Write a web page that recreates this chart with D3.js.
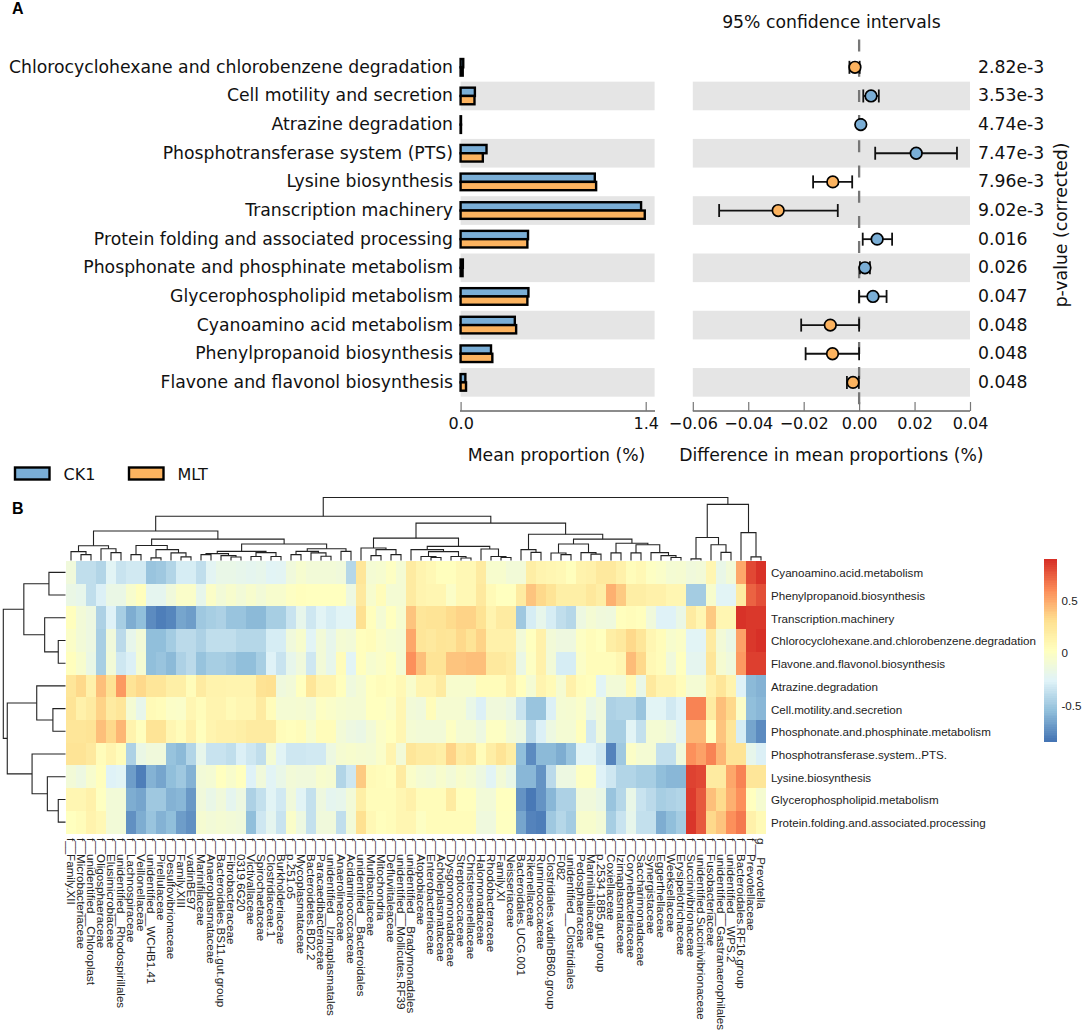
<!DOCTYPE html>
<html><head><meta charset="utf-8">
<style>html,body{margin:0;padding:0;background:#fff}svg{display:block}
.dv{font-family:"DejaVu Sans",sans-serif;fill:#111}
.ar{font-family:"Liberation Sans",Arial,sans-serif;fill:#222}</style>
<script src="https://cdn.jsdelivr.net/npm/d3@7"></script></head>
<body><svg id="c" width="1084" height="1032"></svg>
<script>
// ---------- Panel A data ----------
const pathways=["Chlorocyclohexane and chlorobenzene degradation","Cell motility and secretion","Atrazine degradation","Phosphotransferase system (PTS)","Lysine biosynthesis","Transcription machinery","Protein folding and associated processing","Phosphonate and phosphinate metabolism","Glycerophospholipid metabolism","Cyanoamino acid metabolism","Phenylpropanoid biosynthesis","Flavone and flavonol biosynthesis"];
const meanCK1=[.02,.108,.003,.196,1.015,1.365,.51,.017,.513,.41,.23,.036];
const meanMLT=[.016,.105,.003,.168,1.025,1.393,.505,.015,.505,.42,.24,.041];
const diffMean=[-.0015,.0043,.0006,.0206,-.0095,-.0292,.0065,.0021,.005,-.0104,-.0096,-.0022];
const diffLow=[-.0035,.0015,.0002,.0058,-.0166,-.0505,.0013,.0003,0,-.0209,-.0193,-.0044];
const diffHigh=[.0002,.0071,.001,.0353,-.0025,-.0077,.0119,.0039,.0099,0,0,-.0001];
const pValues=["2.82e-3","3.53e-3","4.74e-3","7.47e-3","7.96e-3","9.02e-3","0.016","0.026","0.047","0.048","0.048","0.048"];
const groups=["CK1","MLT"];
const groupColors=["#7aaed6","#fcb35f"];
// ---------- Panel B data ----------
const heatRows=["Cyanoamino.acid.metabolism","Phenylpropanoid.biosynthesis","Transcription.machinery","Chlorocyclohexane.and.chlorobenzene.degradation","Flavone.and.flavonol.biosynthesis","Atrazine.degradation","Cell.motility.and.secretion","Phosphonate.and.phosphinate.metabolism","Phosphotransferase.system..PTS.","Lysine.biosynthesis","Glycerophospholipid.metabolism","Protein.folding.and.associated.processing"];
const heatCols=["f__Family.XII","f__Microbacteriaceae","f__unidentified__Chloroplast","f__Oligosphaeraceae","f__Elusimicrobiaceae","f__unidentified__Rhodospirillales","f__Lachnospiraceae","f__Veillonellaceae","f__unidentified__WCHB1.41","f__Pirellulaceae","f__Desulfovibrionaceae","f__Family.XIII","f__vadinBE97","f__Marinifilaceae","f__Anaeroplasmataceae","f__Bacteroidales.BS11.gut.group","f__Fibrobacteraceae","f__0319.6G20","f__Victivallaceae","f__Spirochaetaceae","f__Clostridiaceae.1","f__Burkholderiaceae","f__p.251.o5","f__Mycoplasmataceae","f__Bacteroidetes.BD2.2","f__Paracaedibacteraceae","f__unidentified__Izimaplasmatales","f__Anaerolineaceae","f__Acidaminococcaceae","f__unidentified__Bacteroidales","f__Muribaculaceae","f__Mitochondria","f__Defluviitaleaceae","f__unidentified__Mollicutes.RF39","f__unidentified__Bradymonadales","f__Atopobiaceae","f__Enterobacteriaceae","f__Acholeplasmataceae","f__Dysgonomonadaceae","f__Streptococcaceae","f__Christensenellaceae","f__Halomonadaceae","f__Rhodobacteraceae","f__Family.XI","f__Neisseriaceae","f__Bacteroidales.UCG.001","f__Rikenellaceae","f__Ruminococcaceae","f__Clostridiales.vadinBB60.group","f__F082","f__unidentified__Clostridiales","f__Pedosphaeraceae","f__Marinilabiliaceae","f__p.2534.18B5.gut.group","f__Coxiellaceae","f__Izimaplasmataceae","f__Corynebacteriaceae","f__Saccharimonadaceae","f__Synergistaceae","f__Eggerthellaceae","f__Weeksellaceae","f__Erysipelotrichaceae","f__Succinivibrionaceae","f__unidentified.Succinivibrionaceae","f__Fusobacteriaceae","f__unidentified__Gastranaerophilales","f__unidentified__WPS.2","f__Bacteroidales.RF16.group","f__Prevotellaceae","g__Prevotella"];
const r01=[-.12,-.38,-.38,-.43,-.25,-.35,-.32,-.32,-.52,-.5,-.43,-.3,-.3,-.38,-.24,-.18,-.18,-.2,-.22,-.2,-.25,-.24,-.12,-.06,-.1,-.1,-.1,-.12,-.42,.25,-.08,-.06,0,-.08,.2,.12,.08,.03,.03,.08,.08,.2,-.05,-.05,-.1,-.1,.18,.12,.1,.08,.03,.13,.15,.22,.22,.15,.05,.08,0,-.03,-.08,-.07,-.12,-.1,.1,-.18,-.1,.5,.8,.87];
const r02=[-.17,-.2,-.38,-.28,-.17,-.17,-.05,.03,-.22,-.22,-.12,-.03,-.03,-.2,-.02,-.1,-.05,-.1,-.05,-.1,-.05,-.05,0,.03,.02,.02,.02,.02,-.15,.22,-.05,.05,-.08,-.08,.2,.12,.1,.1,-.02,.08,.08,.22,.07,.02,.02,.2,.4,.33,.27,.17,.17,.17,.23,.18,.47,.38,.18,.18,.15,.15,.1,.1,-.48,-.48,-.05,-.25,-.25,.2,.72,.78];
const r03=[.03,-.1,-.15,-.45,-.27,-.47,-.62,-.55,-.75,-.8,-.77,-.65,-.68,-.5,-.47,-.45,-.52,-.52,-.57,-.57,-.47,-.47,-.35,-.2,-.33,-.25,-.3,-.25,-.25,.3,.03,-.08,.02,-.06,.4,.25,.27,.27,.32,.35,.35,.28,.12,.2,.2,-.5,-.3,-.2,-.3,-.38,-.42,-.15,-.08,-.12,-.13,.03,.05,.03,-.12,-.27,-.27,-.17,.2,.1,.38,.1,.1,.87,.85,.85];
const r04=[-.02,-.1,-.15,-.47,-.12,-.4,-.2,-.1,-.55,-.55,-.48,-.4,-.4,-.45,-.38,-.38,-.38,-.42,-.42,-.42,-.3,-.3,-.12,-.05,-.25,-.1,-.2,-.08,-.1,.03,.05,-.02,-.06,-.08,.5,.25,.22,.26,.25,.33,.27,.35,.15,.15,.15,-.1,.02,.15,-.1,-.14,-.14,0,.05,.02,.18,.22,.33,.25,.1,.05,-.05,-.02,-.25,-.25,.2,-.1,-.17,.52,.85,.875];
const r05=[.03,-.05,-.17,-.47,-.1,-.33,-.28,-.08,-.55,-.52,-.57,-.45,-.4,-.53,-.47,-.47,-.5,-.55,-.55,-.47,-.27,-.35,-.2,-.12,-.33,-.1,-.2,.05,-.25,.03,-.06,-.03,.03,-.08,.58,.42,.27,.27,.4,.4,.42,.42,.22,.22,.18,-.17,0,.15,-.1,-.3,-.3,-.02,.05,.05,.05,.1,.43,.33,.08,.05,-.12,.02,-.22,-.22,.25,-.07,-.13,.55,.83,.83];
const r06=[.25,.33,.15,.42,.28,.55,.27,.33,.25,.25,.17,.17,.05,.2,.13,.13,.12,.12,.12,.28,.3,-.13,-.1,.02,.25,.12,.12,.03,-.13,-.08,.02,.05,.03,.08,-.04,.12,.12,.2,-.05,-.05,-.05,.05,.05,.05,.15,.03,-.08,.12,.07,-.07,.15,.05,.03,-.25,-.1,-.1,.07,-.18,.22,.12,.12,.05,-.08,-.08,.15,.25,.12,-.27,-.57,-.6];
const r07=[.27,.15,.2,.35,.2,.25,-.08,-.2,.07,.05,-.02,-.03,.1,.05,.12,.12,.07,.1,.1,.2,.05,-.08,-.08,-.07,-.1,0,-.03,-.06,-.08,-.08,.02,.02,-.02,.1,-.1,-.12,.05,-.07,-.07,-.07,-.18,-.28,-.12,-.12,-.17,-.35,-.52,-.52,-.28,-.08,-.07,-.03,-.18,-.12,-.45,-.43,-.43,-.52,-.25,-.25,-.32,-.27,.62,.62,.2,.42,.33,-.02,-.55,-.58];
const r08=[.25,.25,.27,.42,.33,.45,.13,.03,.27,.27,.1,.05,.15,.03,.12,.15,.15,.17,.2,.2,.2,.05,.03,.05,-.05,.05,.05,-.1,-.15,-.17,-.1,-.02,.02,.1,-.08,-.1,-.1,-.1,0,-.08,-.08,-.15,0,0,-.1,-.15,-.4,-.28,-.15,-.08,-.08,.03,-.32,-.12,-.47,-.47,-.25,-.37,-.08,-.08,-.14,-.25,.45,.45,.02,.4,.25,-.3,-.65,-.75];
const r09=[.27,.27,.22,.05,.12,.05,-.45,-.17,-.12,-.12,-.53,-.57,-.43,-.2,-.35,-.35,-.38,-.28,-.33,-.38,-.08,-.25,-.33,-.33,-.32,-.32,-.15,-.07,-.05,-.07,-.08,-.03,.12,-.1,.25,.2,.2,.17,.35,.2,.25,.05,.18,.27,.18,-.55,-.75,-.57,-.57,-.62,-.52,-.25,-.25,-.32,-.78,-.5,-.02,-.08,-.08,-.37,-.37,-.12,.58,.52,.62,.45,.27,.27,-.2,-.28];
const r10=[-.1,-.15,-.05,.03,-.27,-.25,-.68,-.8,-.6,-.65,-.55,-.5,-.6,-.1,-.08,.02,-.04,.02,-.27,-.12,-.25,-.18,-.1,-.12,-.12,-.05,-.07,-.43,-.33,.38,.07,.05,.03,.2,-.03,-.08,-.1,-.05,-.1,-.04,-.08,-.15,-.25,-.1,-.18,-.58,-.58,-.72,-.4,-.15,-.15,0,0,-.27,-.33,-.43,-.43,-.47,-.47,-.55,-.58,-.58,.82,.8,.2,.2,.5,.62,.25,.25];
const r11=[.1,.1,.15,.01,-.1,-.1,-.62,-.65,-.5,-.5,-.6,-.58,-.7,-.12,-.18,-.12,-.22,-.15,-.45,-.37,-.25,-.32,-.12,-.25,-.37,-.14,-.22,-.2,-.1,.17,.05,.05,.05,.1,.15,.05,.05,.05,.2,.03,.03,-.1,-.1,.02,.02,-.72,-.82,-.72,-.58,-.45,-.45,-.12,-.12,-.17,-.52,-.42,-.18,-.35,-.4,-.47,-.45,-.43,.84,.75,.42,.32,.47,.58,.02,-.07];
const r12=[.02,.05,.13,.08,-.1,-.1,-.73,-.62,-.52,-.6,-.55,-.68,-.73,-.07,-.1,-.08,-.1,-.12,-.55,-.33,-.22,-.35,-.03,-.15,-.37,-.12,-.12,-.38,-.1,.3,.08,.03,.05,.1,.1,0,.05,.05,.05,.05,.05,-.13,-.13,.01,.01,-.65,-.78,-.8,-.5,-.42,-.48,-.05,-.05,-.1,-.47,-.35,-.2,-.37,-.37,-.62,-.55,-.48,.86,.75,.33,.4,.58,.65,.15,.07];
const heatValues=[r01,r02,r03,r04,r05,r06,r07,r08,r09,r10,r11,r12];
const colorStops=["#4575b4","#91bfdb","#e0f3f8","#ffffbf","#fee090","#fc8d59","#d73027"];
const legendTicks=[-.5,0,.5];
// Dendrograms: [merge height, child, child]; 0 is a leaf, leaves follow the heatmap order.
const colTree=[64,[45,[30,[15,[9,0,[6,0,0]],[12,0,[8,0,0]]],[21.7,[15.3,[6,0,0],[11,[2.7,0,0],[7.7,0,[3.7,0,0]]]],[16.7,[9.3,[7,[6,0,0],[5,0,[3.5,0,0]]],[8,[4,0,0],[4,0,0]]],[12,[9.3,[6,0,0],[7.7,0,[4.3,0,0]]],[9.3,0,0]]]]],[38,[22.7,[12.7,0,[11,[5,0,0],[6,0,0]]],[14.3,[11,0,[9,[4,0,[3,0,0]],[4,0,[2.5,0,0]]]],[11.7,0,[4,0,[3,0,0]]]]],[26.7,[11,0,[8.3,0,0]],[21.7,[16.7,[7.6,0,[6,0,0]],[8,0,[6.5,0,0]]],[17.5,[7.7,0,0],[16,[7.7,0,0],[8,0,[5,0,[3,0,0]]]]]]]]],[57,[23.3,[1.7,0,0],[16,0,[8.3,0,0]]],[28.3,0,[3.7,0,0]]]];
const rowTree=[62.7,[42,[16.7,0,0],[21,0,[7.3,0,0]]],[58.7,[29,0,[12.7,0,0]],[33.7,0,[18.3,0,[7.3,0,0]]]]];

const svg=d3.select("#c");
const DV="dv",AR="ar";
// ---- Panel A ----
const y=d3.scaleBand().domain(d3.range(12)).range([53,396.7]);
const xMean=d3.scaleLinear().domain([0,1.4]).range([460.6,645.7]);
const xDiff=d3.scaleLinear().domain([-.06,.04]).range([692.8,970]);
const bandRows=d3.range(1,12,2);
const A=svg.append("g");
A.append("g").selectAll("rect").data(bandRows).join("rect").attr("x",xMean(0)).attr("width",194).attr("y",d=>y(d)).attr("height",y.bandwidth()).attr("fill","#e5e5e5");
A.append("g").selectAll("rect").data(bandRows).join("rect").attr("x",xDiff(-.06)).attr("width",xDiff(.04)-xDiff(-.06)).attr("y",d=>y(d)).attr("height",y.bandwidth()).attr("fill","#e5e5e5");
const cy=i=>y(i)+y.bandwidth()/2;
A.append("g").selectAll("text").data(pathways).join("text").attr("class",DV).attr("x",453).attr("y",(d,i)=>cy(i)+5.5).attr("text-anchor","end").attr("font-size",17.25).text(d=>d);
[meanCK1,meanMLT].forEach((vals,k)=>{
 A.append("g").selectAll("rect").data(vals).join("rect")
  .attr("x",xMean(0)).attr("width",d=>xMean(d)-xMean(0))
  .attr("y",(d,i)=>cy(i)+(k?0:-8.3)).attr("height",8.3)
  .attr("fill",groupColors[k]).attr("stroke","#000").attr("stroke-width",2.4);
});
const axis=(sc,vals,fmt)=>d3.axisBottom(sc).tickValues(vals).tickFormat(fmt).tickSize(-9).tickPadding(7);
function drawAxis(sc,vals,fmt,domain){
 const g=A.append("g").attr("transform","translate(0,411)").call(axis(sc,vals,fmt));
 g.select(".domain").attr("d",`M${domain[0]},0H${domain[1]}`).attr("stroke","#666").attr("stroke-width",1.6);
 g.selectAll(".tick line").attr("stroke","#777").attr("stroke-width",1.2);
 g.selectAll("text").attr("class",DV).attr("font-size",16).attr("fill","#111").style("font-family",'"DejaVu Sans"');
}
drawAxis(xMean,[0,1.4],d3.format(".1f"),[460,655]);
drawAxis(xDiff,[-.06,-.04,-.02,0,.02,.04],d3.format(".2f"),[xDiff(-.06),xDiff(.04)]);
A.append("line").attr("x1",xDiff(0)).attr("x2",xDiff(0)).attr("y1",39.5).attr("y2",411).attr("stroke","#777").attr("stroke-width",2.3).attr("stroke-dasharray","12,13.2");
// error bars
const eb=A.append("g").attr("stroke","#111").attr("stroke-width",1.8);
eb.selectAll("line.m").data(d3.range(12)).join("line").attr("class","m").attr("x1",i=>xDiff(diffLow[i])).attr("x2",i=>xDiff(diffHigh[i])).attr("y1",cy).attr("y2",cy);
[diffLow,diffHigh].forEach((arr,k)=>eb.selectAll("line.c"+k).data(d3.range(12)).join("line").attr("class","c"+k).attr("x1",i=>xDiff(arr[i])).attr("x2",i=>xDiff(arr[i])).attr("y1",i=>cy(i)-6.5).attr("y2",i=>cy(i)+6.5));
A.append("g").selectAll("circle").data(diffMean).join("circle").attr("cx",d=>xDiff(d)).attr("cy",(d,i)=>cy(i)).attr("r",5.8).attr("fill",d=>groupColors[d>0?0:1]).attr("stroke","#000").attr("stroke-width",1.7);
A.append("g").selectAll("text").data(pValues).join("text").attr("class",DV).attr("x",978).attr("y",(d,i)=>cy(i)+5.5).attr("font-size",17.25).text(d=>d);
const T=(x,yy,s,fs,anchor,cls)=>svg.append("text").attr("class",cls||DV).attr("x",x).attr("y",yy).attr("font-size",fs).attr("text-anchor",anchor||"start").text(s);
T(831.4,28,"95% confidence intervals",17.25,"middle");
T(556.5,461,"Mean proportion (%)",17.25,"middle");
T(831.4,461,"Difference in mean proportions (%)",17.25,"middle");
svg.append("text").attr("class",DV).attr("transform","translate(1067,225) rotate(-90)").attr("text-anchor","middle").attr("font-size",17.25).text("p-value (corrected)");
T(12,14,"A",16,"start",AR).attr("font-weight","bold").style("fill","#000");
T(12,514,"B",16,"start",AR).attr("font-weight","bold").style("fill","#000");
// legend
const lgX=d3.scaleOrdinal().domain(groups).range([15,129]);
groups.forEach((g,k)=>{
 svg.append("rect").attr("x",lgX(g)).attr("y",467.5).attr("width",34.5).attr("height",12).attr("fill",groupColors[k]).attr("stroke","#000").attr("stroke-width",2.4);
 T(lgX(g)+48.5,479.5,g,16);
});
// ---- Panel B ----
const hx=d3.scaleBand().domain(d3.range(70)).range([66,766]);
const hy=d3.scaleBand().domain(d3.range(12)).range([561,833.5]);
const vMin=-.835,vMax=.875;
const color=d3.scaleLinear().domain(colorStops.map((c,i)=>vMin+(vMax-vMin)*i/6)).range(colorStops).interpolate(d3.interpolateRgb).clamp(true);
const H=svg.append("g").attr("shape-rendering","crispEdges");
heatValues.forEach((row,r)=>{
 H.append("g").selectAll("rect").data(row).join("rect").attr("x",(d,c)=>hx(c)).attr("y",hy(r)).attr("width",hx.bandwidth()+.3).attr("height",hy.bandwidth()+.3).attr("fill",d=>color(d));
});
svg.append("g").selectAll("text").data(heatRows).join("text").attr("class",AR).attr("x",771).attr("y",(d,i)=>hy(i)+hy.bandwidth()/2+5).attr("font-size",11.6).text(d=>d);
svg.append("g").selectAll("text").data(heatCols).join("text").attr("class",AR)
 .attr("transform",(d,i)=>`translate(${hx(i)+hx.bandwidth()/2-3.6},838) rotate(90)`).attr("font-size",11.6).text(d=>d);
function dendro(tree){
 const root=d3.hierarchy(tree,d=>Array.isArray(d)?d.slice(1):null);
 root.leaves().forEach((l,i)=>{l.idx=i});
 root.eachAfter(n=>{n.pos=n.children?d3.mean(n.children,c=>c.pos):n.idx;n.h=n.children?n.data[0]:0;});
 return root.descendants().filter(n=>n.children);
}
const colH=d3.scaleLinear().domain([0,64]).range([560.5,497.5]);
const colP=i=>hx(0)+hx.step()*(i+.5);
svg.append("g").selectAll("path").data(dendro(colTree)).join("path").attr("fill","none").attr("stroke","#222").attr("stroke-width",1.1)
 .attr("d",n=>{const [a,b]=n.children;return `M${colP(a.pos)},${colH(a.h)}V${colH(n.h)}H${colP(b.pos)}V${colH(b.h)}`});
const rowH=d3.scaleLinear().domain([0,62.7]).range([65.5,3.3]);
const rowP=i=>hy(0)+hy.step()*(i+.5);
svg.append("g").selectAll("path").data(dendro(rowTree)).join("path").attr("fill","none").attr("stroke","#222").attr("stroke-width",1.1)
 .attr("d",n=>{const [a,b]=n.children;return `M${rowH(a.h)},${rowP(a.pos)}H${rowH(n.h)}V${rowP(b.pos)}H${rowH(b.h)}`});
// colour key
const key=d3.scaleLinear().domain([vMin,vMax]).range([741.5,561]);
const keyCells=d3.range(100).map(i=>vMin+(vMax-vMin)*i/99);
svg.append("g").attr("shape-rendering","crispEdges").selectAll("rect").data(keyCells).join("rect").attr("x",1044).attr("width",12.5).attr("y",d=>key(d)-1.9).attr("height",2.3).attr("fill",d=>color(d));
svg.append("g").selectAll("text").data(legendTicks).join("text").attr("class",AR).attr("x",1061.5).attr("y",d=>key(d)+4).attr("font-size",11.6).text(d=>String(d));
</script></body></html>
